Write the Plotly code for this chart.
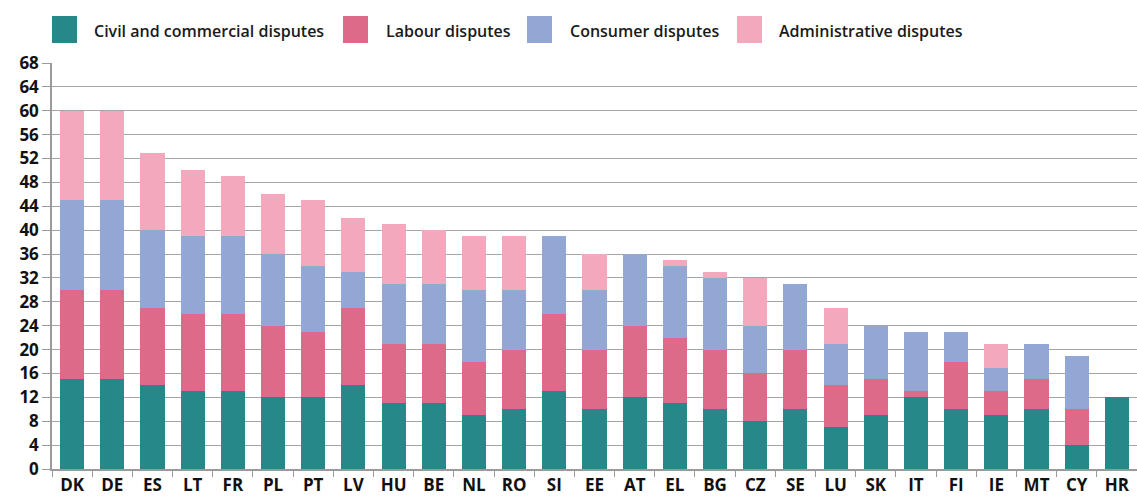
import plotly.graph_objects as go

countries = ["DK","DE","ES","LT","FR","PL","PT","LV","HU","BE","NL","RO","SI","EE","AT","EL","BG","CZ","SE","LU","SK","IT","FI","IE","MT","CY","HR"]
civil =    [15,15,14,13,13,12,12,14,11,11, 9,10,13,10,12,11,10, 8,10, 7, 9,12,10, 9,10, 4,12]
labour =   [15,15,13,13,13,12,11,13,10,10, 9,10,13,10,12,11,10, 8,10, 7, 6, 1, 8, 4, 5, 6, 0]
consumer = [15,15,13,13,13,12,11, 6,10,10,12,10,13,10,12,12,12, 8,11, 7, 9,10, 5, 4, 6, 9, 0]
admin =    [15,15,13,11,10,10,11, 9,10, 9, 9, 9, 0, 6, 0, 1, 1, 8, 0, 6, 0, 0, 0, 4, 0, 0, 0]

series_names = ["Civil and commercial disputes", "Labour disputes", "Consumer disputes", "Administrative disputes"]
series_vals = [civil, labour, consumer, admin]
colors = ["#27888A", "#DE6A8A", "#93A7D4", "#F4A8BE"]
y_ticks = list(range(0, 69, 4))

fig = go.Figure()
for name, vals, col in zip(series_names, series_vals, colors):
    fig.add_trace(go.Bar(x=countries, y=vals, name=name, marker_color=col,
                         marker_line_width=0, showlegend=False))

W, H = 1137, 503
ml, mr, mt, mb = 52, 0, 63, 34
pw, ph = W - ml - mr, H - mt - mb

def px_x(x):
    return (x - ml) / pw

def px_y(y):
    return (H - mb - y) / ph

shapes = []
annotations = []
legend_pos = [(52, 92), (343, 384), (527, 568), (737, 777)]
for (sx, tx), name, col in zip(legend_pos, series_names, colors):
    shapes.append(dict(type="rect", xref="paper", yref="paper",
                       x0=px_x(sx), x1=px_x(sx + 25), y0=px_y(43), y1=px_y(16),
                       fillcolor=col, line_width=0))
    annotations.append(dict(text=name, xref="paper", yref="paper",
                            x=px_x(tx), y=px_y(31), xanchor="left", yanchor="middle",
                            showarrow=False,
                            font=dict(family="Open Sans", size=16, color="#1a1a1a", weight=600)))

fig.update_layout(
    barmode="stack",
    bargap=0.4,
    width=W, height=H, autosize=False,
    margin=dict(l=ml, r=mr, t=mt, b=mb, pad=0),
    plot_bgcolor="white", paper_bgcolor="white",
    shapes=shapes, annotations=annotations,
    font=dict(family="Open Sans", color="#111111"),
)
fig.update_xaxes(type="category", tickson="boundaries", ticks="outside", ticklen=6,
                 tickcolor="#9a9a9a", showline=True, linecolor="#9a9a9a", linewidth=1.5,
                 showgrid=False, tickfont=dict(size=17, color="#111111", weight="bold"),
                 range=[-0.5, len(countries) - 0.5])
fig.update_yaxes(range=[0, 68], tickvals=y_ticks, ticks="outside", ticklen=8,
                 tickcolor="#9a9a9a", showline=True, linecolor="#9a9a9a", linewidth=1.5,
                 showgrid=True, gridcolor="#a6a6a6", gridwidth=1, zeroline=False,
                 tickfont=dict(size=17, color="#111111", weight="bold"))

fig.write_html("out.html", config={"displayModeBar": False},
               post_script="document.body.style.margin='0';document.body.style.overflow='hidden';")
